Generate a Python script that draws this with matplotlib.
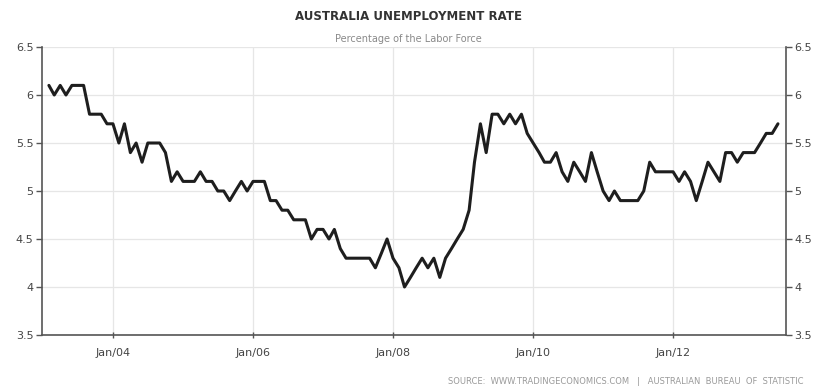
import matplotlib
matplotlib.use("Agg")
import matplotlib.pyplot as plt
import pandas as pd
import datetime as dt

# Monthly unemployment rate (%), Feb 2003 .. Jul 2013
start_month = "2003-02-01"
rates = [
    6.1, 6.0, 6.1, 6.0, 6.1, 6.1, 6.1, 5.8, 5.8, 5.8, 5.7,            # 2003 Feb-Dec
    5.7, 5.5, 5.7, 5.4, 5.5, 5.3, 5.5, 5.5, 5.5, 5.4, 5.1, 5.2,       # 2004
    5.1, 5.1, 5.1, 5.2, 5.1, 5.1, 5.0, 5.0, 4.9, 5.0, 5.1, 5.0,       # 2005
    5.1, 5.1, 5.1, 4.9, 4.9, 4.8, 4.8, 4.7, 4.7, 4.7, 4.5, 4.6,       # 2006
    4.6, 4.5, 4.6, 4.4, 4.3, 4.3, 4.3, 4.3, 4.3, 4.2, 4.35, 4.5,      # 2007
    4.3, 4.2, 4.0, 4.1, 4.2, 4.3, 4.2, 4.3, 4.1, 4.3, 4.4, 4.5,       # 2008
    4.6, 4.8, 5.3, 5.7, 5.4, 5.8, 5.8, 5.7, 5.8, 5.7, 5.8, 5.6,       # 2009
    5.5, 5.4, 5.3, 5.3, 5.4, 5.2, 5.1, 5.3, 5.2, 5.1, 5.4, 5.2,       # 2010
    5.0, 4.9, 5.0, 4.9, 4.9, 4.9, 4.9, 5.0, 5.3, 5.2, 5.2, 5.2,       # 2011
    5.2, 5.1, 5.2, 5.1, 4.9, 5.1, 5.3, 5.2, 5.1, 5.4, 5.4, 5.3,       # 2012
    5.4, 5.4, 5.4, 5.5, 5.6, 5.6, 5.7,                                # 2013
]
y_ticks = [3.5, 4, 4.5, 5, 5.5, 6, 6.5]
y_tick_labels = ["3.5", "4", "4.5", "5", "5.5", "6", "6.5"]
x_tick_years = [2004, 2006, 2008, 2010, 2012]
x_tick_labels = ["Jan/04", "Jan/06", "Jan/08", "Jan/10", "Jan/12"]

title = "AUSTRALIA UNEMPLOYMENT RATE"
subtitle = "Percentage of the Labor Force"
source = "SOURCE:  WWW.TRADINGECONOMICS.COM   |   AUSTRALIAN  BUREAU  OF  STATISTIC"

dates = pd.date_range(start_month, periods=len(rates), freq="MS")

W, H = 817, 389
fig = plt.figure(figsize=(W / 100, H / 100), dpi=100)
fig.patch.set_facecolor("white")
ax = fig.add_axes([42 / W, 1 - 335 / H, (786 - 42) / W, (335 - 47) / H])

ax.plot(dates, rates, color="#1e1e1e", lw=2.2, solid_joinstyle="round",
        solid_capstyle="round", zorder=3)

ax.set_ylim(3.5, 6.5)
ax.set_xlim(dt.datetime(2002, 12, 27), dt.datetime(2013, 8, 12))
ax.set_yticks(y_ticks)
ax.set_yticklabels(y_tick_labels)
ax.set_xticks([dt.datetime(y, 1, 1) for y in x_tick_years])
ax.set_xticklabels(x_tick_labels)

ax.grid(True, color="#e6e6e6", lw=0.9, zorder=0)
for side in ["left", "right", "bottom"]:
    ax.spines[side].set_color("#555555")
    ax.spines[side].set_linewidth(1.2)
ax.spines["top"].set_visible(False)

ax.tick_params(axis="y", which="both", left=True, right=True, labelleft=True,
               labelright=True, direction="out", length=4, width=1,
               color="#555555", labelcolor="#444444", labelsize=8, pad=2)
ax.tick_params(axis="x", direction="inout", length=5, width=1, color="#555555",
               labelcolor="#444444", labelsize=8, pad=7)

fig.text(0.5, 1 - 17 / H, title, ha="center", va="center", fontsize=8.5,
         fontweight="bold", color="#333333")
fig.text(0.5, 1 - 39 / H, subtitle, ha="center", va="center", fontsize=7,
         color="#8a8a8a")
fig.text(803 / W, 1 - 381 / H, source, ha="right", va="center", fontsize=6,
         color="#9a9a9a")

fig.savefig("out.png", dpi=100, facecolor="white")
